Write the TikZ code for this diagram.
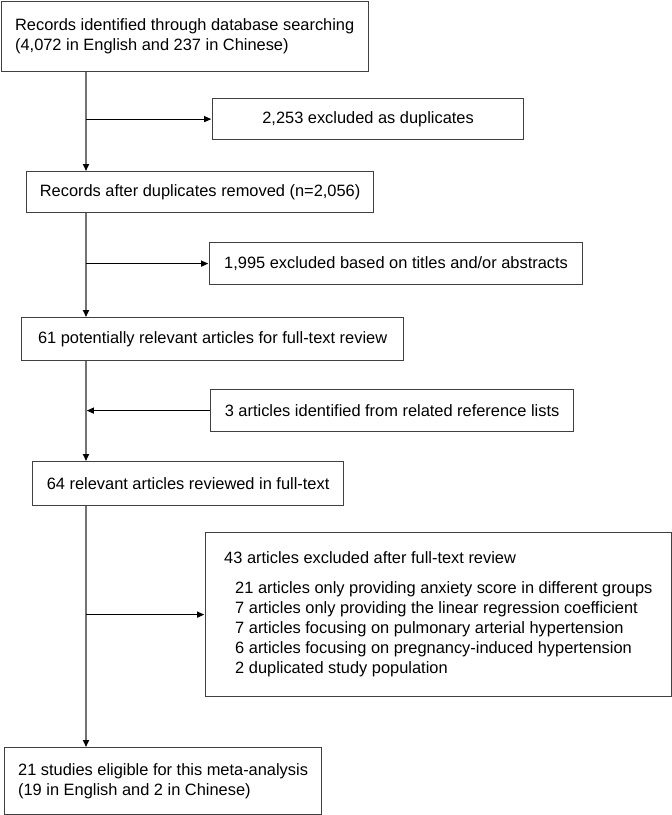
\documentclass[tikz,border=0pt]{standalone}
\usepackage{fontspec}
\setmainfont{Liberation Sans}
\usetikzlibrary{arrows.meta}
\begin{document}
\begin{tikzpicture}[x=1pt, y=-1pt,
  font=\fontsize{16.4}{20}\selectfont,
  box/.style={draw=black!75, line width=1.2pt, anchor=north west, inner sep=0pt, align=center},
  spine/.style={draw=black!55, line width=1.6pt, -{Triangle[length=7pt,width=6pt,color=black]}},
  side/.style={draw=black, line width=1pt, shorten >=0.8pt, -{Triangle[length=7pt,width=6pt]}}]
  \useasboundingbox (0,0) rectangle (672,815);
  \coordinate (axis) at (86,0);
  \node[box, minimum width=367pt, minimum height=70.5pt, align=left] (records) at (0.6,0.6)
    {Records identified through database searching\\(4,072 in English and 237 in Chinese)};
  \node[box, minimum width=311pt, minimum height=41pt] (dup) at (212,98) {2,253 excluded as duplicates};
  \node[box, minimum width=347pt, minimum height=41pt] (nodup) at (26,171) {Records after duplicates removed (n=2,056)};
  \node[box, minimum width=373pt, minimum height=42pt] (title) at (209,242) {1,995 excluded based on titles and/or abstracts};
  \node[box, minimum width=382pt, minimum height=43pt] (full) at (21,317) {61 potentially relevant articles for full-text review};
  \node[box, minimum width=363pt, minimum height=42pt] (extra) at (210,389) {3 articles identified from related reference lists};
  \node[box, minimum width=311pt, minimum height=44pt] (reviewed) at (32,461) {64 relevant articles reviewed in full-text};
  \node[box, minimum width=465.5pt, minimum height=164pt, align=left] (excl) at (205,532)
    {43 articles excluded after full-text review\\[10pt]
     \hspace*{11pt}21 articles only providing anxiety score in different groups\\
     \hspace*{11pt}7 articles only providing the linear regression coefficient\\
     \hspace*{11pt}7 articles focusing on pulmonary arterial hypertension\\
     \hspace*{11pt}6 articles focusing on pregnancy-induced hypertension\\
     \hspace*{11pt}2 duplicated study population};
  \node[box, minimum width=317pt, minimum height=67pt, align=left] (eligible) at (4,747)
    {21 studies eligible for this meta-analysis\\(19 in English and 2 in Chinese)};
  \draw[spine] (axis |- records.south) -- (axis |- nodup.north);
  \draw[spine] (axis |- nodup.south) -- (axis |- full.north);
  \draw[spine] (axis |- full.south) -- (axis |- reviewed.north);
  \draw[spine] (axis |- reviewed.south) -- (axis |- eligible.north);
  \draw[side] (axis |- dup.west) -- (dup.west);
  \draw[side] (axis |- title.west) -- (title.west);
  \draw[side] (extra.west) -- (axis |- extra.west);
  \draw[side] (axis |- excl.west) -- (excl.west);
\end{tikzpicture}
\end{document}
